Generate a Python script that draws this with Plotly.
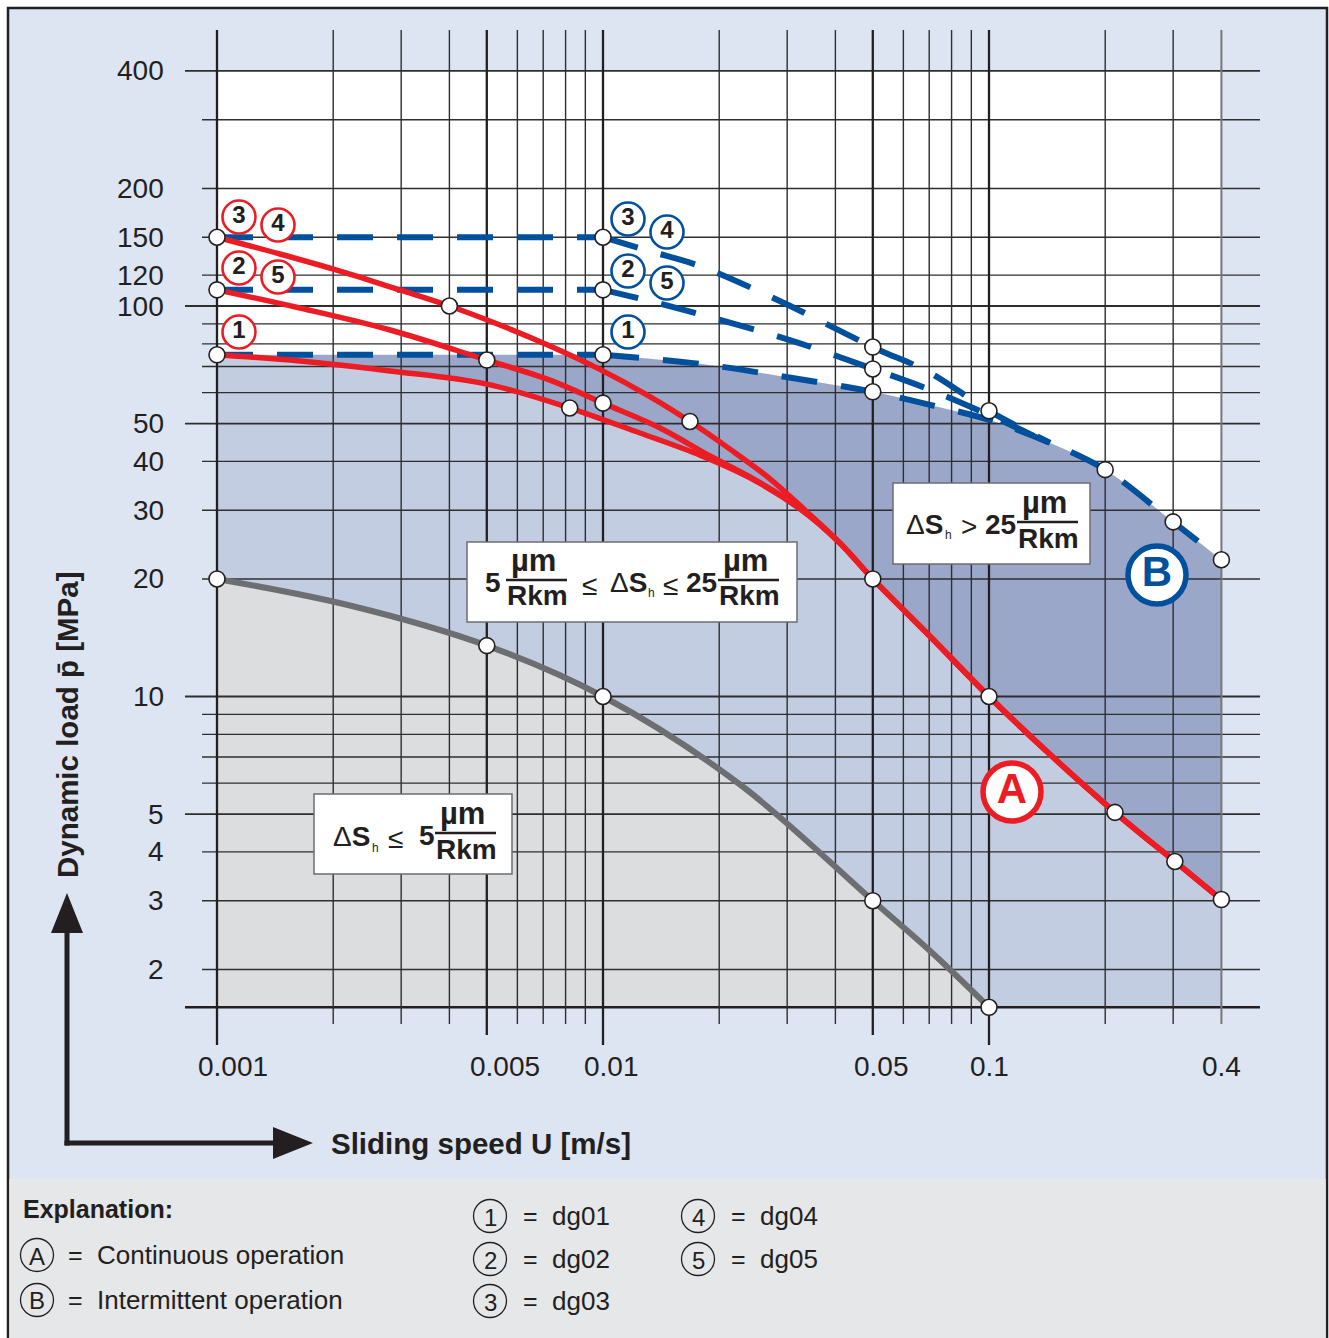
import math
import plotly.graph_objects as go

# ---------------- data ----------------
# Curve A (continuous operation): common tail of all material groups
a_tail_x = [0.0704, 0.1, 0.144, 0.212, 0.303, 0.4]
a_tail_y = [14.24, 10.0, 7.10, 5.05, 3.78, 3.02]

red_dg01_x = [0.001, 0.00164, 0.00281, 0.005, 0.0082, 0.01247, 0.01784, 0.02403, 0.0324, 0.04112, 0.05]
red_dg01_y = [75, 72.3, 68.2, 63.1, 54.8, 47.3, 41.5, 36.3, 30.2, 24.7, 20]
red_dg02_x = [0.001, 0.00164, 0.00281, 0.005, 0.00729, 0.01, 0.01405, 0.01893, 0.02403, 0.0324, 0.04112, 0.05]
red_dg02_y = [110, 98.8, 86.8, 72.7, 64.6, 56.4, 48.7, 41.3, 36.5, 30.4, 24.7, 20]
red_dg03_x = [0.001, 0.001456, 0.002083, 0.002979, 0.004, 0.00541, 0.00729, 0.00982, 0.01323,
              0.0168, 0.02133, 0.02708, 0.03337, 0.04112, 0.05]
red_dg03_y = [150, 135.9, 122.9, 109.9, 100, 89.4, 79.0, 68.8, 58.6, 50.6, 43.0, 36.1, 30.0, 24.7, 20]

# Curve B (intermittent operation): constant up to 0.01 m/s, then falling
b_flat_x = [0.001, 0.01]
blue_dg01_level, blue_dg02_level, blue_dg03_level = 75, 110, 150
blue_dg01_x = [0.01, 0.0178, 0.0287, 0.05, 0.0704, 0.1, 0.144, 0.2, 0.3, 0.4]
blue_dg01_y = [75, 71.1, 66.2, 60.3, 55.8, 51.1, 44.6, 38.1, 28.0, 22.4]
blue_dg02_x = [0.01, 0.0132, 0.0189, 0.0305, 0.05, 0.0704, 0.1, 0.144]
blue_dg02_y = [110, 103, 93.7, 81.8, 69.0, 61.0, 52.6, 44.4]
blue_dg03_x = [0.01, 0.0132, 0.0178, 0.0287, 0.05, 0.0704, 0.1, 0.144]
blue_dg03_y = [150, 138.2, 126.6, 103, 78.5, 67.4, 53.9, 44.6]

# Lower boundary (wear <= 5 um/Rkm)
grey_x = [0.001, 0.00221, 0.005, 0.01, 0.0226, 0.05, 0.0704, 0.1]
grey_y = [20, 17.1, 13.5, 10, 5.96, 3.0, 2.23, 1.6]

# marked points
pt_red_x = [0.001, 0.001, 0.001, 0.004, 0.005, 0.0082, 0.01, 0.0168, 0.05, 0.1, 0.212, 0.303, 0.4]
pt_red_y = [150, 110, 75, 100, 72.7, 54.8, 56.4, 50.6, 20, 10, 5.05, 3.78, 3.02]
pt_blue_x = [0.01, 0.01, 0.01, 0.05, 0.05, 0.05, 0.1, 0.2, 0.3, 0.4]
pt_blue_y = [150, 110, 75, 78.5, 69.0, 60.3, 53.9, 38.1, 28.0, 22.4]
pt_grey_x = [0.001, 0.005, 0.01, 0.05, 0.1]
pt_grey_y = [20, 13.5, 10, 3.0, 1.6]

# axes
x_tick_vals = [0.001, 0.005, 0.01, 0.05, 0.1, 0.4]
x_tick_text = ["0.001", "0.005", "0.01", "0.05", "0.1", "0.4"]
y_tick_vals = [2, 3, 4, 5, 10, 20, 30, 40, 50, 100, 120, 150, 200, 400]
y_tick_text = [str(v) for v in y_tick_vals]
grid_x = [0.001, 0.002, 0.003, 0.004, 0.005, 0.006, 0.007, 0.008, 0.009,
          0.01, 0.02, 0.03, 0.04, 0.05, 0.06, 0.07, 0.08, 0.09,
          0.1, 0.2, 0.3, 0.4]
grid_y = [1.6, 2, 3, 4, 5, 6, 7, 8, 9, 10, 20, 30, 40, 50, 60, 70, 80, 90,
          100, 120, 150, 200, 300, 400]
x_min, x_max = 0.001, 0.4
y_min, y_max = 1.6, 400

# ---------------- layout geometry ----------------
W, H = 1329, 1338
PL, PR, PT, PB = 185, 1260, 30, 1045          # plot area in pixels
X_REF, X_DEC = 217, 386.0                      # pixel of x=0.001, px per decade
Y_REF, Y_DEC = 306, 390.5                      # pixel of y=100, px per decade


def x_of_px(p):
    return 10 ** (-3 + (p - X_REF) / X_DEC)


def y_of_px(p):
    return 10 ** (2 - (p - Y_REF) / Y_DEC)


def fx(p):
    return (p - PL) / (PR - PL)


def fy(p):
    return (PB - p) / (PB - PT)


FONT = "Liberation Sans, Arial, sans-serif"
INK = "#231f20"
RED = "#ec1c24"
BLUE = "#00509d"
GREYL = "#6d6e71"
BG = "#dde5f2"
DARK = "#9ba7c9"
LIGHT = "#c3cde2"
GREYF = "#dcdddf"
GRID = "#2e2e2e"
NONE = "rgba(0,0,0,0)"

fig = go.Figure()


def line_tr(x, y, color, width, dash=None, shape="spline", fill=None, fillcolor=None):
    fig.add_trace(go.Scatter(
        x=x, y=y, mode="lines", hoverinfo="skip", fill=fill, fillcolor=fillcolor,
        line=dict(color=color, width=width, dash=dash, shape=shape, smoothing=1.0)))


def fill_under(x, y, color, shape="spline"):
    line_tr([x[0], x[-1]], [y_min, y_min], NONE, 0, shape="linear")
    line_tr(x, y, NONE, 0, shape=shape, fill="tonexty", fillcolor=color)


# white chart field
line_tr([x_min, x_max, x_max, x_min, x_min], [y_min, y_min, y_max, y_max, y_min],
        NONE, 0, shape="linear", fill="toself", fillcolor="white")

# region below curve B
fill_under(b_flat_x, [blue_dg01_level] * 2, DARK, shape="linear")
fill_under(blue_dg01_x, blue_dg01_y, DARK)

# region below curve A
a1x = red_dg01_x + a_tail_x
a1y = red_dg01_y + a_tail_y
fill_under(a1x, a1y, LIGHT)

# region below grey curve
fill_under(grey_x, grey_y, GREYF)

# ---------------- grid ----------------
y_top = y_of_px(PT)
major_x = [0.001, 0.01, 0.1]
mid_x = [0.005, 0.05]


def add_lines(segs, color, width):
    X, Y = [], []
    for (xa, ya, xb, yb) in segs:
        X += [xa, xb, None]
        Y += [ya, yb, None]
    fig.add_trace(go.Scatter(x=X, y=Y, mode="lines", hoverinfo="skip",
                             line=dict(color=color, width=width)))


long_y = [400, 100, 50, 10, 5]
add_lines([(x_of_px(202), v, x_of_px(PR), v) for v in grid_y if v not in long_y and v != 1.6], GRID, 1.4)
add_lines([(x_of_px(PL), v, x_of_px(PR), v) for v in long_y], GRID, 1.8)
add_lines([(x_of_px(PL), 1.6, x_of_px(PR), 1.6)], INK, 2.4)
add_lines([(v, y_of_px(1024), v, y_top) for v in grid_x
           if v not in major_x and v not in mid_x and v != 0.4], GRID, 1.4)
add_lines([(0.4, y_of_px(1024), 0.4, y_top)], "#777777", 2.0)
add_lines([(v, y_of_px(1035), v, y_top) for v in mid_x], INK, 2.3)
add_lines([(v, y_of_px(1045), v, y_top) for v in major_x], INK, 2.3)

# ---------------- curves ----------------
line_tr(grey_x, grey_y, GREYL, 6)
DASH = "36px,24px"
for lvl, bx, by in [(blue_dg03_level, blue_dg03_x, blue_dg03_y),
                    (blue_dg02_level, blue_dg02_x, blue_dg02_y),
                    (blue_dg01_level, blue_dg01_x, blue_dg01_y)]:
    line_tr(b_flat_x, [lvl, lvl], BLUE, 6, dash=DASH, shape="linear")
    line_tr(bx, by, BLUE, 6, dash=DASH)
line_tr(red_dg03_x + a_tail_x, red_dg03_y + a_tail_y, RED, 5.5)
line_tr(red_dg02_x + a_tail_x, red_dg02_y + a_tail_y, RED, 5.5)
line_tr(a1x, a1y, RED, 5.5)

# points
fig.add_trace(go.Scatter(
    x=pt_red_x + pt_blue_x + pt_grey_x, y=pt_red_y + pt_blue_y + pt_grey_y,
    mode="markers", hoverinfo="skip",
    marker=dict(size=16, color="white", line=dict(color=INK, width=1.6))))

# circled group numbers
lab_red_x = [x_of_px(239), x_of_px(278), x_of_px(239), x_of_px(278), x_of_px(239)]
lab_red_y = [y_of_px(217), y_of_px(225), y_of_px(268), y_of_px(277), y_of_px(332)]
lab_blue_x = [x_of_px(628), x_of_px(667), x_of_px(628), x_of_px(667), x_of_px(628)]
lab_blue_y = [y_of_px(219), y_of_px(232), y_of_px(271), y_of_px(283), y_of_px(332)]
lab_text = ["3", "4", "2", "5", "1"]
for lx, ly, col in [(lab_red_x, lab_red_y, RED), (lab_blue_x, lab_blue_y, BLUE)]:
    fig.add_trace(go.Scatter(
        x=lx, y=ly, mode="markers+text", text=lab_text, textposition="middle center",
        hoverinfo="skip",
        textfont=dict(family=FONT, size=24, color=INK, weight="bold"),
        marker=dict(size=33, color="white", line=dict(color=col, width=2.6))))

# big A / B
for cx, cy, t, col in [(1012, 792, "A", RED), (1157, 575, "B", BLUE)]:
    fig.add_trace(go.Scatter(
        x=[x_of_px(cx)], y=[y_of_px(cy)], mode="markers+text", text=[t],
        textposition="middle center", hoverinfo="skip",
        textfont=dict(family=FONT, size=42, color=col, weight="bold"),
        marker=dict(size=58, color="white", line=dict(color=col, width=5.5))))

# ---------------- shapes & annotations ----------------
shapes = []
ann = []

# frame and panels
shapes.append(dict(type="rect", xref="paper", yref="paper", layer="below",
                   x0=fx(8), x1=fx(1327), y0=fy(1340), y1=fy(8),
                   fillcolor=BG, line=dict(color=INK, width=2.5)))
shapes.append(dict(type="rect", xref="paper", yref="paper", layer="below",
                   x0=fx(9.3), x1=fx(1325.7), y0=fy(1340), y1=fy(1179),
                   fillcolor="#e6e7e8", line=dict(width=0)))


def txt(px, py, text, size=28, bold=False, color=INK, xanchor="left", angle=0):
    ann.append(dict(xref="paper", yref="paper", x=fx(px), y=fy(py), text=text,
                    showarrow=False, xanchor=xanchor, yanchor="middle", textangle=angle,
                    borderpad=0,
                    font=dict(family=FONT, size=size, color=color,
                              weight="bold" if bold else "normal")))


def hline(x0, x1, py, width=2.5, color=INK):
    shapes.append(dict(type="line", xref="paper", yref="paper", layer="above",
                       x0=fx(x0), x1=fx(x1), y0=fy(py), y1=fy(py),
                       line=dict(color=color, width=width)))


def box(x0, y0, x1, y1):
    shapes.append(dict(type="rect", xref="paper", yref="paper", layer="above",
                       x0=fx(x0), x1=fx(x1), y0=fy(y1), y1=fy(y0),
                       fillcolor="white", line=dict(color="#6d6e71", width=1.5)))


def frac(xl, xr, L):
    txt((xl + xr) / 2 - 3, L - 20, "µm", 31, True, xanchor="center")
    hline(xl, xr, L)
    txt(xl, L + 16, "Rkm", 28, True)


# box 1
box(467, 542, 797, 622)
txt(484, 582, "5", 28, True)
frac(506, 567, 580)
txt(581, 585, "≤", 28)
txt(609, 582, "Δ<b>S</b>", 28)
txt(647, 593, "h", 12)
txt(662, 585, "≤", 28)
txt(685, 582, "25", 28, True)
frac(718, 779, 580)

# box 2
box(893, 483, 1090, 564)
txt(905, 524, "Δ<b>S</b>", 28)
txt(944, 535, "h", 12)
txt(960, 526, ">", 28)
txt(984, 524, "25", 28, True)
frac(1017, 1078, 522)

# box 3
box(314, 794, 512, 874)
txt(332, 836, "Δ<b>S</b>", 28)
txt(371, 848, "h", 12)
txt(387, 838, "≤", 28)
txt(418, 835, "5", 28, True)
frac(435, 496, 833)

# tick labels
for v, t in zip(y_tick_vals, y_tick_text):
    ann.append(dict(xref="paper", yref="y", x=fx(165), y=math.log10(v), text=t,
                    showarrow=False, xanchor="right", yanchor="middle", borderpad=0,
                    font=dict(family=FONT, size=28, color=INK)))
x_label_shift = [16, 18, 8, 9, 0, 0]
for v, t, s in zip(x_tick_vals, x_tick_text, x_label_shift):
    ann.append(dict(xref="x", yref="paper", x=math.log10(v), y=fy(1066), text=t,
                    showarrow=False, xanchor="center", yanchor="middle", xshift=s,
                    borderpad=0, font=dict(family=FONT, size=28, color=INK)))

# axis titles and arrows
txt(67, 724, "Dynamic load p\u0304 [MPa]", 29.5, True, xanchor="center", angle=-90)
txt(330, 1143, "Sliding speed U [m/s]", 29.5, True)
shapes.append(dict(type="line", xref="paper", yref="paper", x0=fx(67), x1=fx(67),
                   y0=fy(1145.5), y1=fy(925), line=dict(color=INK, width=5)))
shapes.append(dict(type="line", xref="paper", yref="paper", x0=fx(64.5), x1=fx(282),
                   y0=fy(1143), y1=fy(1143), line=dict(color=INK, width=5)))
shapes.append(dict(type="path", xref="paper", yref="paper",
                   path=f"M {fx(67)},{fy(893)} L {fx(51)},{fy(933)} L {fx(83)},{fy(933)} Z",
                   fillcolor=INK, line=dict(width=0)))
shapes.append(dict(type="path", xref="paper", yref="paper",
                   path=f"M {fx(313)},{fy(1143)} L {fx(273)},{fy(1127)} L {fx(273)},{fy(1159)} Z",
                   fillcolor=INK, line=dict(width=0)))

# explanation panel
txt(22, 1209, "Explanation:", 25, True)


def circ(cx, cy, label, r=16.5):
    shapes.append(dict(type="circle", xref="paper", yref="paper", layer="above",
                       x0=fx(cx - r), x1=fx(cx + r), y0=fy(cy + r), y1=fy(cy - r),
                       line=dict(color=INK, width=1.3)))
    txt(cx, cy + 1, label, 24, xanchor="center")


circ(37, 1255, "A")
txt(67, 1255, "=", 25)
txt(96, 1255, "Continuous operation", 26)
circ(37, 1300, "B")
txt(67, 1300, "=", 25)
txt(96, 1300, "Intermittent operation", 26)
for i, (cx, cy) in enumerate([(490, 1216), (490, 1259), (490, 1301), (698, 1216), (698, 1259)]):
    circ(cx, cy, str(i + 1))
    txt(cx + 32, cy, "=", 25)
    txt(cx + 61, cy, f"dg0{i + 1}", 26)

fig.update_layout(
    width=W, height=H, autosize=False,
    margin=dict(l=PL, r=W - PR, t=PT, b=H - PB, pad=0),
    paper_bgcolor="white", plot_bgcolor=NONE,
    showlegend=False, font=dict(family=FONT, color=INK),
    xaxis=dict(type="log", range=[math.log10(x_of_px(PL)), math.log10(x_of_px(PR))],
               showgrid=False, zeroline=False, showticklabels=False, ticks="",
               showline=False, fixedrange=True),
    yaxis=dict(type="log", range=[math.log10(y_of_px(PB)), math.log10(y_of_px(PT))],
               showgrid=False, zeroline=False, showticklabels=False, ticks="",
               showline=False, fixedrange=True),
    shapes=shapes, annotations=ann,
)

fig.write_html("out.html", include_plotlyjs=True, config={"displayModeBar": False},
               post_script="document.body.style.margin='0';document.body.style.overflow='hidden';")
